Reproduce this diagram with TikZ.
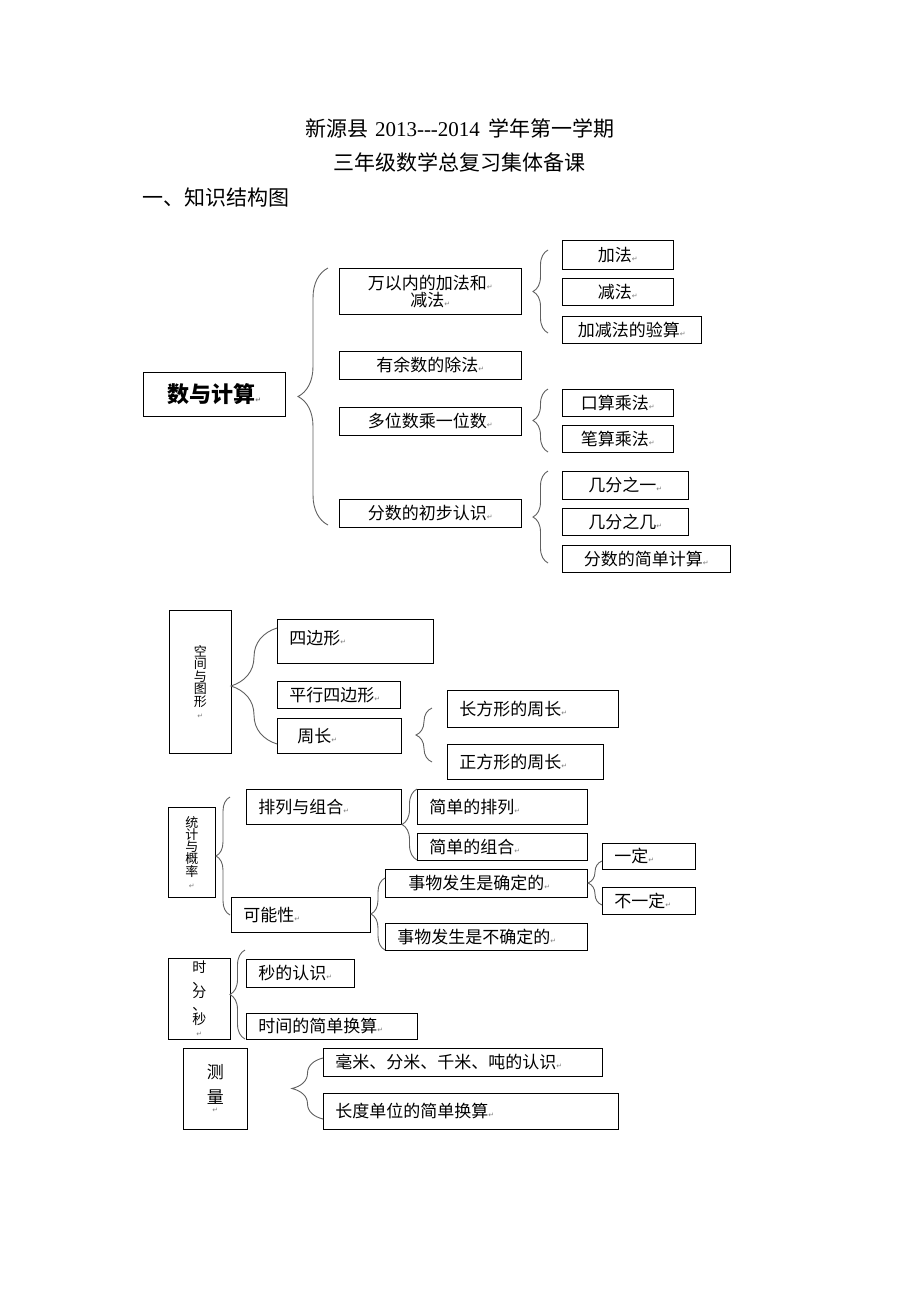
\documentclass[tikz,border=0pt]{standalone}
\usepackage{fontspec}
\setmainfont{Noto Sans CJK SC}
\newfontfamily\numfont{Liberation Serif}
\newfontfamily\symfont{DejaVu Sans}
\usetikzlibrary{decorations.pathreplacing,shadows}

% small paragraph mark after each entry
\newcommand\pmark{{\symfont\fontsize{7}{7}\selectfont\color{gray}↵}}

\tikzset{
  box/.style={draw, fill=white, anchor=north west, inner sep=0pt,
    font=\fontsize{17}{19}\selectfont,
    drop shadow={shadow xshift=1pt, shadow yshift=-1pt, fill=gray!55, opacity=1}},
  lbox/.style={box, align=left, inner xsep=12pt},
  vbox/.style={box, align=center},
  brc/.style={draw=gray!75!black, line width=0.9pt, decorate,
    decoration={brace, amplitude=#1}},
}

\begin{document}
\begin{tikzpicture}[x=1pt, y=-1pt, line width=0.8pt]
  \fill[white] (0,0) rectangle (920,1302);
  \useasboundingbox (0,0) rectangle (920,1302);

  % title
  \node[font=\fontsize{21}{24}\selectfont] (t1) at (460,128) {新源县\hspace{7pt}{\numfont 2013-{}-{}-2014}\hspace{9pt}学年第一学期};
  \node[font=\fontsize{21}{24}\selectfont] (t2) at (459,162) {三年级数学总复习集体备课};
  \node[font=\fontsize{21}{24}\selectfont, anchor=west, inner sep=0pt] (t3) at (142,198) {一、知识结构图};

  % numbers and calculation
  \node[box, minimum width=142, minimum height=44, font=\fontsize{22}{24}\selectfont\bfseries] (calc) at (143,372) {数与计算\pmark};
  \node[box, minimum width=182, minimum height=46, align=center] (wan) at (339,268) {万以内的加法和\pmark\\[-2pt]减法\pmark};
  \node[box, minimum width=182, minimum height=28] (yu) at (339,351) {有余数的除法\pmark};
  \node[box, minimum width=182, minimum height=28] (duo) at (339,407) {多位数乘一位数\pmark};
  \node[box, minimum width=182, minimum height=28] (frac) at (339,499) {分数的初步认识\pmark};
  \node[box, minimum width=111, minimum height=29] (jia) at (562,240) {加法\pmark};
  \node[box, minimum width=111, minimum height=27] (jian) at (562,278) {减法\pmark};
  \node[box, minimum width=139, minimum height=27] (yan) at (562,316) {加减法的验算\pmark};
  \node[box, minimum width=111, minimum height=27] (kou) at (562,389) {口算乘法\pmark};
  \node[box, minimum width=111, minimum height=27] (bi) at (562,425) {笔算乘法\pmark};
  \node[box, minimum width=126, minimum height=28] (jione) at (562,471) {几分之一\pmark};
  \node[box, minimum width=126, minimum height=27] (jiji) at (562,508) {几分之几\pmark};
  \node[box, minimum width=168, minimum height=27] (jisuan) at (562,545) {分数的简单计算\pmark};

  \coordinate (b1t) at (328,268);  \coordinate (b1b) at (328,525);
  \coordinate (b2t) at (548,250);  \coordinate (b2b) at (548,333);
  \coordinate (b3t) at (548,389);  \coordinate (b3b) at (548,452);
  \coordinate (b4t) at (548,471);  \coordinate (b4b) at (548,563);
  \draw[brc=30pt] (b1b) -- (b1t);
  \draw[brc=15pt] (b2b) -- (b2t);
  \draw[brc=15pt] (b3b) -- (b3t);
  \draw[brc=15pt] (b4b) -- (b4t);

  % space and shapes
  \node[vbox, minimum width=62, minimum height=143, font=\fontsize{13}{12.5}\selectfont] (space) at (169,610) {空\\间\\与\\图\\形\\\pmark};
  \node[lbox, minimum height=44, text width=132pt] (quad) at (277,619) {\raisebox{7pt}{四边形\pmark}};
  \node[lbox, minimum height=27, text width=99pt] (para) at (277,681) {平行四边形\pmark};
  \node[lbox, minimum height=35, text width=100pt] (peri) at (277,718) {\hspace*{8pt}周长\pmark};
  \node[lbox, minimum height=37, text width=147pt] (rect) at (447,690) {长方形的周长\pmark};
  \node[lbox, minimum height=35, text width=132pt] (sq) at (447,744) {正方形的周长\pmark};

  \coordinate (b5t) at (277,628);  \coordinate (b5b) at (277,744);
  \coordinate (b6t) at (432,708);  \coordinate (b6b) at (432,762);
  \draw[brc=46pt] (b5b) -- (b5t);
  \draw[brc=16pt] (b6b) -- (b6t);

  % statistics and probability
  \node[vbox, minimum width=47, minimum height=90, font=\fontsize{13}{12}\selectfont] (stat) at (168,807) {统\\计\\与\\概\\率\\\pmark};
  \node[lbox, minimum height=35, text width=131pt] (perm) at (246,789) {排列与组合\pmark};
  \node[lbox, minimum height=35, text width=146pt] (sperm) at (417,789) {简单的排列\pmark};
  \node[lbox, minimum height=27, text width=146pt] (scomb) at (417,833) {简单的组合\pmark};
  \node[lbox, minimum height=35, text width=115pt] (poss) at (231,897) {可能性\pmark};
  \node[lbox, minimum height=28, text width=178pt] (cert) at (385,869) {\hspace*{11pt}事物发生是确定的\pmark};
  \node[lbox, minimum height=27, text width=178pt] (uncert) at (385,923) {事物发生是不确定的\pmark};
  \node[lbox, minimum height=26, text width=69pt] (yes) at (602,843) {一定\pmark};
  \node[lbox, minimum height=27, text width=69pt] (no) at (602,887) {不一定\pmark};

  \coordinate (b7t) at (230,797);   \coordinate (b7b) at (230,915);
  \coordinate (b8t) at (417,789);   \coordinate (b8b) at (417,860);
  \coordinate (b9t) at (602,861);   \coordinate (b9b) at (602,905);
  \coordinate (b10t) at (385,878);  \coordinate (b10b) at (385,950);
  \draw[brc=14pt] (b7b) -- (b7t);
  \draw[brc=15pt] (b8b) -- (b8t);
  \draw[brc=14pt] (b9b) -- (b9t);
  \draw[brc=14pt] (b10b) -- (b10t);

  % hour, minute, second
  \node[vbox, minimum width=62, minimum height=81, font=\fontsize{14}{12.5}\selectfont] (time) at (168,958) {时\\、\\分\\、\\秒\\\pmark};
  \node[lbox, minimum height=28, text width=84pt] (sec) at (246,959) {秒的认识\pmark};
  \node[lbox, minimum height=26, text width=147pt] (conv) at (246,1013) {时间的简单换算\pmark};

  \coordinate (b11t) at (245,950);  \coordinate (b11b) at (245,1039);
  \draw[brc=15pt] (b11b) -- (b11t);

  % measurement
  \node[vbox, minimum width=64, minimum height=81, font=\fontsize{17}{25}\selectfont] (meas) at (183,1048) {测\\量\\[-16pt]\pmark};
  \node[lbox, minimum height=28, text width=255pt] (unit) at (323,1048) {毫米、分米、千米、吨的认识\pmark};
  \node[lbox, minimum height=36, text width=271pt] (len) at (323,1093) {长度单位的简单换算\pmark};

  \coordinate (b12t) at (323,1058); \coordinate (b12b) at (323,1119);
  \draw[brc=31pt] (b12b) -- (b12t);
\end{tikzpicture}
\end{document}
